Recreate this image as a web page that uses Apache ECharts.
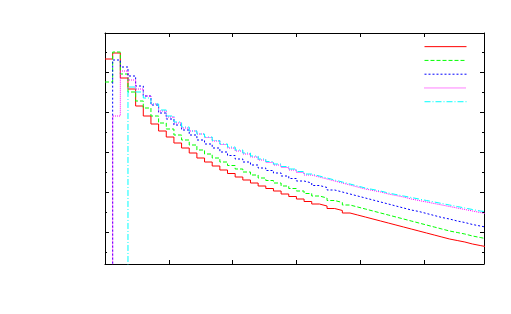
<!DOCTYPE html>
<html><head><meta charset="utf-8">
<script src="https://cdn.jsdelivr.net/npm/echarts@6/dist/echarts.min.js"></script>
<style>html,body{margin:0;padding:0;background:#fff}#c{width:511px;height:314px}</style>
</head><body><div id="c"></div>
<script>
// bin width and x tick spacing (data units)
const binWidth = 60;
const xTickInterval = 500;
const seriesNames = ['s1', 's2', 's3', 's4', 's5'];
const seriesColors = ['#ff0000', '#00ff00', '#0000ff', '#ff00ff', '#00ffff'];
// per-bin values (bin k starts at k*binWidth); 0 = below visible range
const red = [213,219,194,183,166,156,148,141,135,129,124,119,114,110,106,102,98.5,95,92,89,86,83.5,81,78,75.5,73,70.5,68,66,63.5,61.5,59,57,55,53,51,49,47,45,43,41,39,37,35,33,31.5,30,28,26.5,25];
const green = [190,220,198,180,171,164,156,149,143,137,132,127,122,118,114,110,106.5,103,100,97,94,91.5,89,86,83.5,81,78.5,76,74,71.5,69.5,67,65,63,61,59,57,55,53,51,49,47,45,43,41,39.5,38,36,34.5,33];
const blue = [0,212,205,196,186,176,167,159,153,147,142,137,132,128,124,120,116.5,113,110,107,104,101.5,99,96,93.5,91,89,86.5,84.5,82,80,78,76,74,72,70,68,66,64,62,60.5,58.5,56.5,54.5,53,51,49.5,47.5,46,44.5];
const magenta = [0,156,201,192,183,176,168,161,155,149,144,141,138,134.5,131,127.5,124,121,118,115,112,109.5,107,104.5,102,99.5,97,95,93,91,89,87,85,83,81.5,80,78,76.5,75,73,71.5,70,68.5,67,65.5,64,62.5,61,59.5,58];
const cyan = [0,0,0,185,180,174,168,162,156,150,145,141,138,135,131.5,128,125,122,119,116,113,110.5,108,105.5,103,100.5,98,96,94,92,90,88,86,84,82.5,81,79,77.5,76,74.5,73,71.5,70,68.5,67,65.5,64,62.5,61,60];
const allValues = [red, green, blue, magenta, cyan];
const dashes = ['solid', [4, 2], [2, 2], [1, 1], [6, 2, 1, 2]];

function stepData(vals) {
  const d = vals.map((v, k) => [k * binWidth, v]);
  d.push([vals.length * binWidth, vals[vals.length - 1]]);
  return d;
}

const chart = echarts.init(document.getElementById('c'), null, {renderer: 'canvas'});
const axisLine = {show: true, lineStyle: {color: '#000', width: 1}};
function yAx(pos, iv, len, showLine) {
  return {type: 'value', position: pos, min: 8, max: 239, minInterval: iv, maxInterval: iv,
    axisLine: showLine ? axisLine : {show: false},
    axisTick: {show: true, inside: true, length: len, lineStyle: {color: '#000', width: 1}},
    axisLabel: {show: false}, splitLine: {show: false}};
}
function xAx(pos) {
  return {type: 'value', position: pos, min: 0, max: 2970, interval: xTickInterval,
    axisLine: axisLine,
    axisTick: {show: true, inside: true, length: 4, lineStyle: {color: '#000', width: 1}},
    axisLabel: {show: false}, splitLine: {show: false}};
}
chart.setOption({
  animation: false,
  backgroundColor: '#fff',
  grid: {left: 105, right: 27, top: 33, bottom: 50, containLabel: false},
  xAxis: [xAx('bottom'), xAx('top')],
  yAxis: [yAx('left', 40, 4, true), yAx('left', 20, 2, false), yAx('right', 40, 4, true), yAx('right', 20, 2, false)],
  legend: {orient: 'vertical', left: 424, top: 39, padding: 0, itemWidth: 42, itemHeight: 15.3, itemGap: 0,
    formatter: () => '', textStyle: {fontSize: 8}, selectedMode: false,
    itemStyle: {opacity: 0, borderWidth: 0},
    lineStyle: {width: 1},
    data: seriesNames},
  series: allValues.map((vals, i) => ({
    name: seriesNames[i], type: 'line', step: 'end', symbol: 'none', clip: true,
    xAxisIndex: 0, yAxisIndex: 0,
    lineStyle: {color: seriesColors[i], width: 1, type: dashes[i]},
    itemStyle: {color: seriesColors[i]},
    data: stepData(vals)
  }))
});
</script></body></html>
